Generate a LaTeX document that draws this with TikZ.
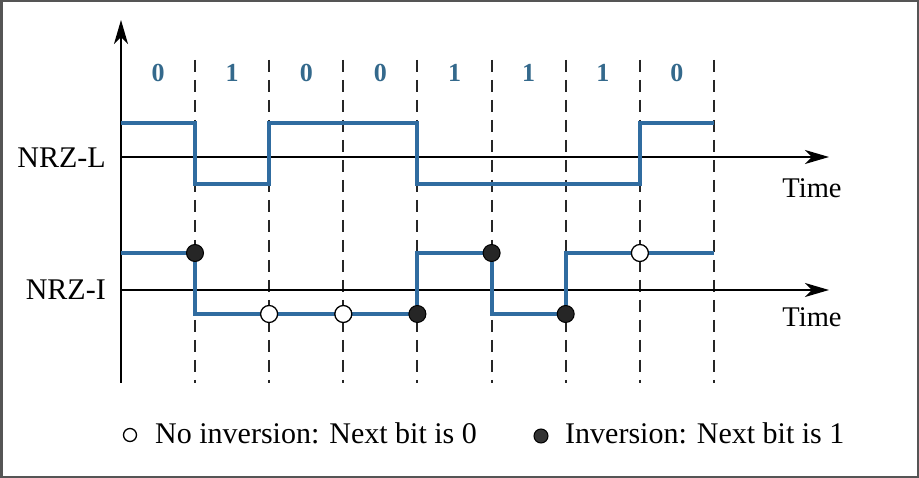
\documentclass[tikz,border=0pt]{standalone}
\usepackage{fontspec}
\setmainfont{Liberation Serif}
\usetikzlibrary{arrows.meta}
\definecolor{wave}{RGB}{48,108,160}
\definecolor{bitc}{RGB}{52,105,140}
\definecolor{frame}{RGB}{85,85,85}
\tikzset{
  axis/.style={line width=1.5pt,draw=black,-{Stealth[length=24pt,width=14pt,inset=7pt]}},
  grid/.style={line width=2pt,draw=black!85,dash pattern=on 12pt off 8pt},
  wavepath/.style={line width=4pt,draw=wave,line join=miter},
  bitlabel/.style={text=bitc,font=\fontsize{26}{28}\selectfont\bfseries,inner sep=0pt},
  siglabel/.style={font=\fontsize{30}{32}\selectfont,inner sep=0pt,anchor=east},
  timelabel/.style={font=\fontsize{28.5}{30}\selectfont,inner sep=0pt},
  legtext/.style={font=\fontsize{30}{32}\selectfont,inner sep=0pt,anchor=base west},
  inv/.style={circle,fill=black!85,draw=black,line width=1pt,minimum size=17pt,inner sep=0pt},
  noinv/.style={circle,fill=white,draw=black,line width=1.3pt,minimum size=17pt,inner sep=0pt},
  leginv/.style={circle,fill=black!80,draw=black,line width=1pt,minimum size=14pt,inner sep=0pt},
  legnoinv/.style={circle,fill=white,draw=black,line width=1.3pt,minimum size=13pt,inner sep=0pt},
}
\begin{document}
\begin{tikzpicture}[x=1pt,y=-1pt]
\useasboundingbox (0,0) rectangle (919,478);
\fill[white] (0,0) rectangle (919,478);
\draw[frame,line width=2.5pt] (1.25,1.25) rectangle (917.75,476.75);
% grid lines
\foreach \k in {0,...,7}{
  \draw[grid] ({195+74.14*\k},60) -- ({195+74.14*\k},383);
}
% axes
\coordinate (yb) at (121,383);
\coordinate (yt) at (121,20);
\coordinate (l0) at (121,157);
\coordinate (l1) at (829,157);
\coordinate (i0) at (121,290);
\coordinate (i1) at (829,290);
\draw[axis] (yb) -- (yt);
\draw[axis] (l0) -- (l1);
\draw[axis] (i0) -- (i1);
% bit labels
\foreach \b [count=\n from 0] in {0,1,0,0,1,1,1,0}{
  \node[bitlabel] (bit\n) at ({158+74.14*\n},73) {\b};
}
% signal names
\node[siglabel] (nrzl) at (106,158) {NRZ-L};
\node[siglabel] (nrzi) at (106,290) {NRZ-I};
\node[timelabel] (time1) at (812,188) {Time};
\node[timelabel] (time2) at (812,317) {Time};
% NRZ-L waveform
\draw[wavepath] (121,123) -- (195,123) -- (195,184) -- (269.1,184) -- (269.1,123)
  -- (417.4,123) -- (417.4,184) -- (639.9,184) -- (639.9,123) -- (714,123);
% NRZ-I waveform
\draw[wavepath] (121,253) -- (195,253) -- (195,314) -- (417.4,314) -- (417.4,253)
  -- (491.6,253) -- (491.6,314) -- (565.7,314) -- (565.7,253) -- (714,253);
% transition markers
\node[inv] (d1) at (195,253) {};
\node[noinv] (d2) at (269.1,314) {};
\node[noinv] (d3) at (343.3,314) {};
\node[inv] (d4) at (417.4,314) {};
\node[inv] (d5) at (491.6,253) {};
\node[inv] (d6) at (565.7,314) {};
\node[noinv] (d7) at (639.9,253) {};
% legend
\node[legnoinv] (lg1) at (130,435) {};
\node[legtext] (lt1) at (155,443) {No inversion: Next bit is 0};
\node[leginv] (lg2) at (541,436) {};
\node[legtext] (lt2) at (565,443) {Inversion: Next bit is 1};
\end{tikzpicture}
\end{document}
